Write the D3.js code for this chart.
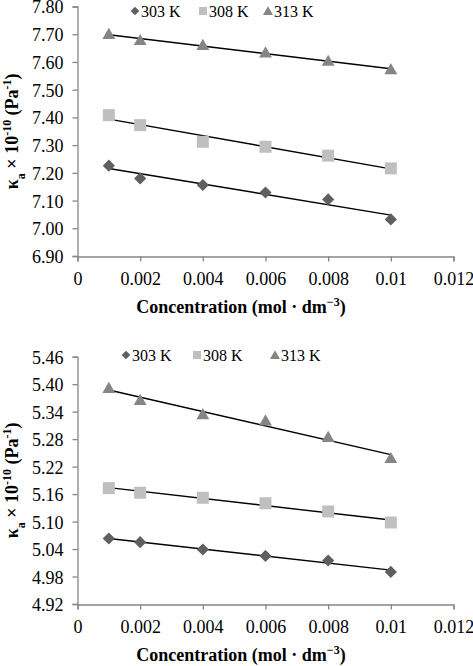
<!DOCTYPE html>
<html>
<head>
<meta charset="utf-8">
<script src="https://cdn.jsdelivr.net/npm/d3@7"></script>
<style>
  body { margin: 0; background: #fff; }
</style>
</head>
<body>
<svg id="chart" width="473" height="666"></svg>
<script>
// concentrations, mol dm^-3
const conc = [0.001, 0.002, 0.004, 0.006, 0.008, 0.01];
const temps = ['303 K', '308 K', '313 K'];
const xTicks = [0, 0.002, 0.004, 0.006, 0.008, 0.01, 0.012];

// panel 1
const top303 = [7.226, 7.180, 7.156, 7.129, 7.104, 7.032];
const top308 = [7.408, 7.372, 7.312, 7.294, 7.262, 7.216];
const top313 = [7.700, 7.678, 7.660, 7.633, 7.603, 7.573];
const topTicks = [6.90, 7.00, 7.10, 7.20, 7.30, 7.40, 7.50, 7.60, 7.70, 7.80];

// panel 2
const bot303 = [5.063, 5.055, 5.039, 5.025, 5.015, 4.990];
const bot308 = [5.173, 5.163, 5.152, 5.140, 5.122, 5.098];
const bot313 = [5.391, 5.365, 5.334, 5.320, 5.284, 5.238];
const botTicks = [4.92, 4.98, 5.04, 5.10, 5.16, 5.22, 5.28, 5.34, 5.40, 5.46];

const serif = '"Liberation Serif", "Times New Roman", "DejaVu Serif", serif';
const colors = ['#5f5f5f', '#bfbfbf', '#858585'];
const axisColor = '#868686';

const svg = d3.select('#chart').attr('font-family', serif);

// diamond = square turned 45 degrees, like the spreadsheet marker
function marker(si, big) {
  if (si === 0) return { d: d3.symbol().type(d3.symbolSquare).size(big ? 74 : 38)(), rot: 45 };
  if (si === 1) return { d: d3.symbol().type(d3.symbolSquare).size(big ? 144 : 64)(), rot: 0 };
  return { d: d3.symbol().type(d3.symbolTriangle).size(big ? 72 : 44)(), rot: 0 };
}

function fit(xs, ys) {
  const mx = d3.mean(xs), my = d3.mean(ys);
  let sxy = 0, sxx = 0;
  xs.forEach((x, i) => { sxy += (x - mx) * (ys[i] - my); sxx += (x - mx) ** 2; });
  const b = sxy / sxx;
  return x => my + b * (x - mx);
}

function drawPanel(cfg) {
  const g = svg.append('g');
  const x = d3.scaleLinear().domain([0, 0.012]).range([77.5, 453.5]);
  const y = d3.scaleLinear().domain(d3.extent(cfg.ticks)).range([cfg.bottom, cfg.top]);

  const yAxis = d3.axisLeft(y).tickValues(cfg.ticks).tickSizeOuter(0).tickSize(5).tickPadding(9)
    .tickFormat(d3.format('.2f'));
  const ya = g.append('g').attr('transform', 'translate(77.5,0)').call(yAxis);

  const xAxis = d3.axisBottom(x).tickValues(xTicks).tickSizeOuter(0).tickSize(5).tickPadding(11)
    .tickFormat(d => d === 0 ? '0' : String(+d.toFixed(3)));
  const xa = g.append('g').attr('transform', `translate(0,${cfg.bottom + 0.5})`).call(xAxis);

  [ya, xa].forEach(a => {
    a.attr('font-family', serif).attr('font-size', 18);
    a.selectAll('path, line').attr('stroke', axisColor).attr('stroke-width', 1.3);
    a.selectAll('text').attr('fill', '#000');
  });
  ya.selectAll('text').attr('dy', '0.36em');

  cfg.series.forEach(vals => {
    const f = fit(conc, vals);
    const x0 = conc[0], x1 = conc[conc.length - 1];
    g.append('line')
      .attr('x1', x(x0)).attr('y1', y(f(x0)))
      .attr('x2', x(x1)).attr('y2', y(f(x1)))
      .attr('stroke', '#000').attr('stroke-width', 1.4);
  });

  cfg.series.forEach((vals, si) => {
    const m = marker(si, true);
    g.selectAll(null).data(vals).join('path')
      .attr('d', m.d)
      .attr('transform', (d, i) => `translate(${x(conc[i])},${y(d) + (si === 2 ? 1 : 0)}) rotate(${m.rot})`)
      .attr('fill', colors[si]);
  });

  // legend
  temps.forEach((t, si) => {
    const lx = cfg.legendX[si];
    const m = marker(si, false);
    g.append('path').attr('d', m.d)
      .attr('transform', `translate(${lx},${cfg.legendY + (si === 2 ? 1 : 0)}) rotate(${m.rot})`)
      .attr('fill', colors[si]);
    g.append('text').attr('x', lx + 6).attr('y', cfg.legendY).attr('dy', '0.35em')
      .attr('font-size', 16).text(t);
  });

  // x title
  const xt = g.append('text').attr('x', 241).attr('y', cfg.bottom + 57)
    .attr('text-anchor', 'middle').attr('font-size', 18).attr('font-weight', 'bold');
  xt.append('tspan').text('Concentration (mol \u00b7 dm');
  xt.append('tspan').attr('baseline-shift', 'super').attr('font-size', 12).text('\u22123');
  xt.append('tspan').text(')');

  // y title
  const cy = (cfg.top + cfg.bottom) / 2;
  const yt = g.append('text').attr('transform', `translate(18,${cy}) rotate(-90)`)
    .attr('text-anchor', 'middle').attr('font-size', 18).attr('font-weight', 'bold');
  yt.append('tspan').text('\u03ba');
  yt.append('tspan').attr('baseline-shift', 'sub').attr('font-size', 12).text('a');
  yt.append('tspan').text(' \u00d7 10');
  yt.append('tspan').attr('baseline-shift', 'super').attr('font-size', 12).text('-10');
  yt.append('tspan').text(' (Pa');
  yt.append('tspan').attr('baseline-shift', 'super').attr('font-size', 12).text('-1');
  yt.append('tspan').text(')');
}

drawPanel({
  top: 6.5, bottom: 256, ticks: topTicks,
  series: [top303, top308, top313],
  legendX: [135, 203, 268], legendY: 11
});

drawPanel({
  top: 356.7, bottom: 604, ticks: botTicks,
  series: [bot303, bot308, bot313],
  legendX: [126, 197, 275], legendY: 355
});
</script>
</body>
</html>
